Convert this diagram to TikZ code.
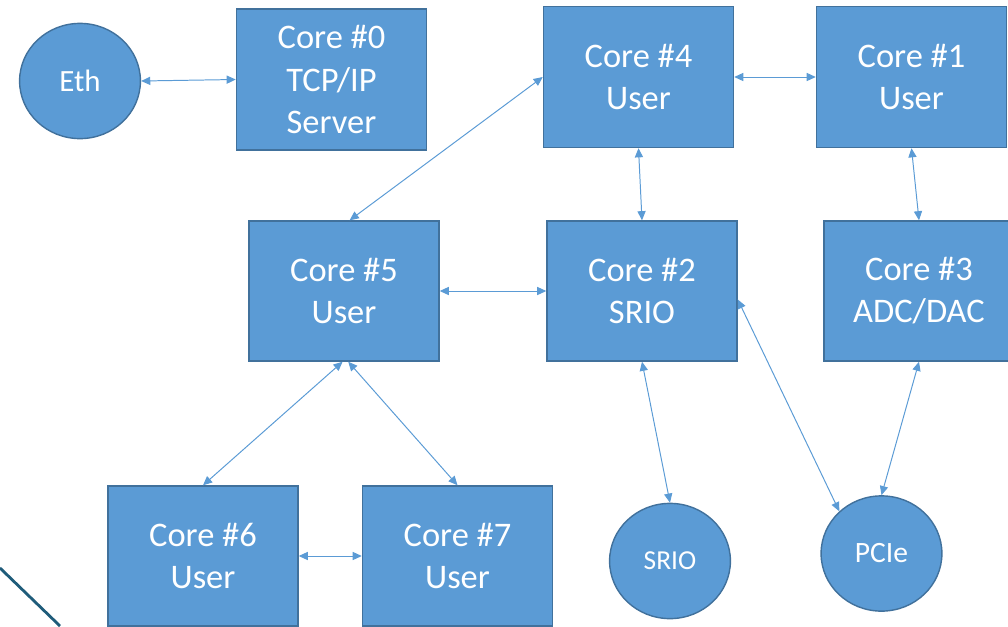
\documentclass[tikz,border=0pt]{standalone}
\usepackage{fontspec}
\setmainfont{Carlito}
\usepackage{tikz}
\usetikzlibrary{shapes.geometric,arrows.meta}
\definecolor{corefill}{HTML}{5B9BD5}
\definecolor{coreedge}{HTML}{41719C}
\definecolor{decoline}{HTML}{1F5C7A}

\begin{document}
\begin{tikzpicture}[x=0.025cm, y=-0.025cm,
  corebox/.style={draw=coreedge, line width=1pt, fill=corefill, text=white,
    minimum width=4.75cm, minimum height=3.5cm, inner sep=0pt, align=center,
    font=\fontsize{24.5}{29.9}\selectfont},
  portnode/.style={draw=coreedge, line width=1pt, fill=corefill, text=white,
    ellipse, minimum width=3.02cm, minimum height=2.88cm, inner sep=0pt},
  link/.style={corefill, line width=0.7pt, {Triangle[length=6.5pt,width=5.8pt]}-{Triangle[length=6.5pt,width=5.8pt]}}]
  \useasboundingbox (0,0) rectangle (1008,626);

  % peripherals
  \node[portnode, font=\fontsize{22}{26}\selectfont] (eth) at (80,81) {Eth};
  \node[portnode, font=\fontsize{19.5}{23}\selectfont] (srio) at (670,561) {SRIO};
  \node[portnode, font=\fontsize{21}{25}\selectfont] (pcie) at (881.5,553.5) {PCIe};

  % cores
  \node[corebox, minimum height=3.525cm] (c0) at (331.5,79.5) {Core \#0\\TCP/IP\\Server};
  \node[corebox, minimum height=3.525cm] (c4) at (638.5,77) {Core \#4\\User};
  \node[corebox, minimum height=3.525cm] (c1) at (911.5,77) {Core \#1\\User};
  \node[corebox] (c5) at (344,291) {Core \#5\\User};
  \node[corebox] (c2) at (642,291) {Core \#2\\SRIO};
  \node[corebox] (c3) at (919,291) {Core \#3\\ADC/DAC};
  \node[corebox] (c6) at (203,556) {Core \#6\\User};
  \node[corebox] (c7) at (457.5,556) {Core \#7\\User};

  % links
  \draw[link] (eth.east) -- (c0.west);
  \draw[link] (c4.east) -- (c1.west);
  \draw[link] (c4.west) -- ([xshift=4pt]c5.north);
  \draw[link] (c4.south) -- (c2.north);
  \draw[link] (c1.south) -- (c3.north);
  \draw[link] (c5.east) -- (c2.west);
  \draw[link] ([yshift=-6pt]c2.east) -- (pcie.135);
  \draw[link] (c2.south) -- (srio.north);
  \draw[link] (c3.south) -- (pcie.north);
  \draw[link] ([xshift=-1pt]c5.south) -- (c6.north);
  \draw[link] ([xshift=3pt]c5.south) -- (c7.north);
  \draw[link] (c6.east) -- (c7.west);

  % corner stroke
  \coordinate (decoA) at (0,568);
  \coordinate (decoB) at (60,626);
  \draw[decoline, line width=2pt] (decoA) -- (decoB);
\end{tikzpicture}
\end{document}
